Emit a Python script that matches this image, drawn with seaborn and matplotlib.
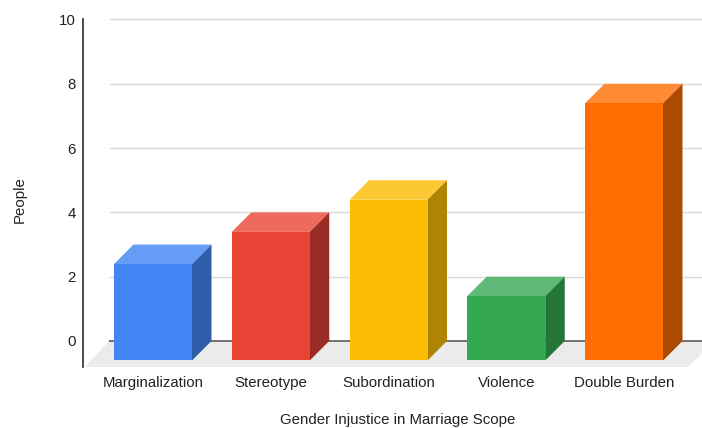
import matplotlib
matplotlib.use("Agg")
import matplotlib.pyplot as plt
import pandas as pd
import seaborn as sns

categories = ["Marginalization", "Stereotype", "Subordination", "Violence", "Double Burden"]
people = [3, 4, 5, 2, 8]
front_colors = ["#4285F4", "#EA4335", "#FBBC04", "#34A853", "#FF6D01"]
top_colors = ["#659DF6", "#EE6A5E", "#FCC934", "#5DB975", "#FF8A34"]
side_colors = ["#2E5DAA", "#992C23", "#AF8303", "#247538", "#AC4A01"]
y_ticks = [0, 2, 4, 6, 8, 10]

sns.set_theme(style="white")
plt.rcParams["font.family"] = ["Liberation Sans", "DejaVu Sans"]

W, H = 702, 428
fig = plt.figure(figsize=(W / 100, H / 100), dpi=100)
ax = fig.add_axes([83 / W, 1 - 367 / H, 619 / W, 347.5 / H])

# Scale and depth of the oblique projection, in data units
x_step = 117.75
y_step = 32.1
depth_x = 19.5 / x_step
depth_y = 19.5 / y_step
bar_width = 78 / x_step
x_limits = ((83 - 153) / x_step, (702 - 153) / x_step)
y_limits = (-26 / y_step, 10)

ax.set_xlim(x_limits)
ax.set_ylim(y_limits)

grid_start = (109 - 153) / x_step
grid_end = x_limits[1]

# Floor plane under the bars
floor_x = [grid_start - 24 / x_step, grid_start, grid_end, grid_end, grid_end - 14 / x_step]
floor_y = [y_limits[0], 0, 0, -12 / y_step, y_limits[0]]
ax.fill(floor_x, floor_y, color="#EBEBEB", lw=0, zorder=1)

# Back-wall gridlines
ax.hlines([t for t in y_ticks if t != 0], grid_start, grid_end, color="#DADADA", lw=1.0,
          zorder=1, clip_on=False)
ax.hlines(0, grid_start, grid_end, color="#5A5A5A", lw=1.2, zorder=2)

df = pd.DataFrame({"category": categories, "people": people})
sns.barplot(
    data=df, x="category", y="people", hue="category", order=categories,
    hue_order=categories, palette=front_colors, dodge=False, legend=False, saturation=1,
    width=bar_width, bottom=-depth_y, linewidth=0, zorder=4, ax=ax,
)
ax.set_xlim(x_limits)
ax.set_ylim(y_limits)

# Top and side faces of each bar
for i, v in enumerate(people):
    left, right = i - bar_width / 2, i + bar_width / 2
    front_top = v - depth_y
    ax.fill([left, right, right + depth_x, left + depth_x],
            [front_top, front_top, v, v], color=top_colors[i], lw=0, zorder=3)
    ax.fill([right, right + depth_x, right + depth_x, right],
            [-depth_y, 0, v, front_top], color=side_colors[i], lw=0, zorder=3)

for name in ["top", "right", "bottom"]:
    ax.spines[name].set_visible(False)
ax.spines["left"].set_color("#3A3A3A")
ax.spines["left"].set_linewidth(1.3)

ax.set_yticks(y_ticks)
ax.set_xticks(range(len(categories)))
ax.set_xticklabels(categories)
ax.tick_params(axis="both", length=0, labelsize=10.8, labelcolor="#222222")
ax.tick_params(axis="y", pad=5)
ax.tick_params(axis="x", pad=6.5)
ax.set_xlabel("")
ax.set_ylabel("")

fig.text(398 / W, 1 - 420 / H, "Gender Injustice in Marriage Scope", ha="center", va="center",
         fontsize=10.8, color="#222222")
fig.text(20 / W, 1 - 200 / H, "People", ha="center", va="center", rotation=90,
         fontsize=10.8, color="#222222")

fig.savefig("out.png", dpi=100)
